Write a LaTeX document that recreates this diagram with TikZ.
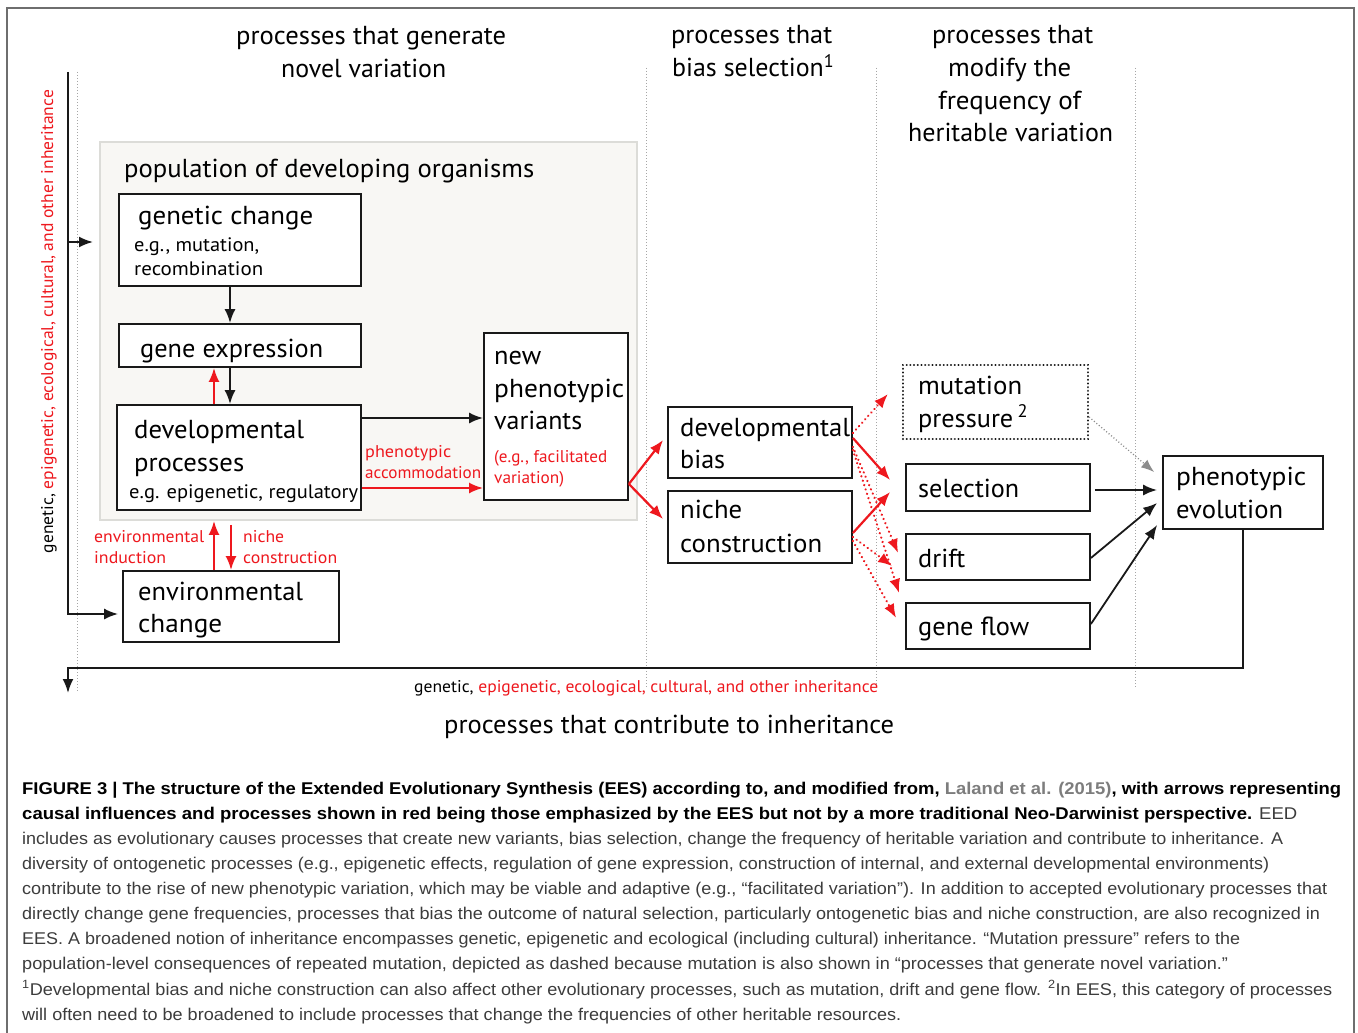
\documentclass[tikz,border=0pt]{standalone}
\usepackage{fontspec}
\usepackage{graphicx}
\setmainfont{PT Sans}
\newfontfamily\capfont{Liberation Sans}
\usetikzlibrary{arrows.meta}
\definecolor{ered}{RGB}{238,24,30}
\definecolor{capgray}{RGB}{60,60,60}
\definecolor{citegray}{RGB}{125,125,125}
\definecolor{popfill}{RGB}{248,247,244}
\definecolor{popdraw}{RGB}{220,220,216}
\definecolor{framec}{RGB}{110,110,110}
\definecolor{boxc}{RGB}{25,25,25}
\newcommand\fw[2]{\resizebox{#1pt}{\height}{#2}}
\tikzset{
  big/.style={inner sep=0pt, anchor=base west, font=\fontsize{26}{30}\selectfont},
  mid/.style={inner sep=0pt, anchor=base west, font=\fontsize{19.5}{23}\selectfont},
  sm/.style={inner sep=0pt, anchor=base west, font=\fontsize{17}{20}\selectfont, text=ered},
  captxt/.style={inner sep=0pt, anchor=base west, font=\capfont\fontsize{17}{20}\selectfont, text=capgray},
  box/.style={draw=boxc, line width=1.8pt, inner sep=0pt},
  dotbox/.style={draw=boxc, line width=2.2pt, dash pattern=on 0.1pt off 3.6pt, line cap=round, inner sep=0pt},
  arr/.style={-{Latex[length=14pt,width=11pt]}, line width=2pt, draw=boxc},
  rarr/.style={-{Latex[length=14pt,width=11pt]}, line width=2.2pt, draw=ered},
  rdot/.style={-{Latex[length=14pt,width=11pt]}, line width=2.4pt, draw=ered, dash pattern=on 0.1pt off 4.5pt, line cap=round},
  gdot/.style={-{Latex[length=13pt,width=10pt]}, line width=1.3pt, draw=gray!90, dash pattern=on 1pt off 2.2pt},
  vline/.style={draw=gray!70, line width=1pt, dash pattern=on 1pt off 2pt},
}
\begin{document}
\begin{tikzpicture}[x=1pt,y=-1pt]
\useasboundingbox (0,0) rectangle (1358,1033);
\fill[white] (0,0) rectangle (1358,1033);
% frame
\draw[framec, line width=1.5pt] (7,1040) -- (7,8) -- (1354,8) -- (1354,1040);

% column separators
\draw[vline] (77,72) -- (77,692);
\draw[vline] (646,68) -- (646,688);
\draw[vline] (876,68) -- (876,688);
\draw[vline] (1135,68) -- (1135,688);

% headers
\node[big] (h1a) at (236,45) {\fw{270}{processes that generate}};
\node[big] (h1b) at (281,78) {\fw{165}{novel variation}};
\node[big] (h2a) at (671,44) {\fw{161}{processes that}};
\node[big] (h2b) at (672,77) {\fw{162}{bias selection\textsuperscript{1}}};
\node[big] (h3a) at (932,44) {\fw{161}{processes that}};
\node[big] (h3b) at (948,77) {\fw{123}{modify the}};
\node[big] (h3c) at (938,110) {\fw{143}{frequency of}};
\node[big] (h3d) at (908,142) {\fw{205}{heritable variation}};
\node[big] (h4) at (444,733) {\fw{450}{processes that contribute to inheritance}};

% population box
\node[draw=popdraw, fill=popfill, line width=1.5pt, minimum width=537pt, minimum height=378pt, inner sep=0pt] (pop) at (368.5,331) {};
\node[big] (popT) at (124,177) {\fw{410}{population of developing organisms}};

% boxes
\node[box, fill=white, minimum width=242pt, minimum height=92pt] (gc) at (240,240) {};
\node[box, fill=white, minimum width=242pt, minimum height=43pt] (ge) at (240,345.5) {};
\node[box, fill=white, minimum width=244pt, minimum height=105pt] (dp) at (239,457.5) {};
\node[box, fill=white, minimum width=144pt, minimum height=167pt] (npv) at (556,416.5) {};
\node[box, minimum width=216pt, minimum height=71pt] (ec) at (231,606.5) {};
\node[box, minimum width=184pt, minimum height=71pt] (db) at (760,442.5) {};
\node[box, minimum width=184pt, minimum height=72pt] (nc) at (760,527) {};
\node[dotbox, minimum width=185pt, minimum height=74pt] (mp) at (995.5,402) {};
\node[box, minimum width=184pt, minimum height=47pt] (sel) at (998,487.5) {};
\node[box, minimum width=184pt, minimum height=46pt] (dr) at (998,557) {};
\node[box, minimum width=184pt, minimum height=46pt] (gf) at (998,626) {};
\node[box, minimum width=160pt, minimum height=73pt] (pe) at (1243,492.5) {};

% box texts
\node[big] (gcT1) at (138,224) {\fw{175}{genetic change}};
\node[mid] (gcT2) at (134,251) {\fw{125}{e.g., mutation,}};
\node[mid] (gcT3) at (134,275) {\fw{129}{recombination}};
\node[big] (geT) at (140,357) {\fw{183}{gene expression}};
\node[big] (dpT1) at (134,438) {\fw{170}{developmental}};
\node[big] (dpT2) at (134,471) {\fw{110}{processes}};
\node[mid] (dpT3) at (129,498) {\fw{229}{e.g. epigenetic, regulatory}};
\node[big] (npvT1) at (494,364) {\fw{47}{new}};
\node[big] (npvT2) at (494,397) {\fw{130}{phenotypic}};
\node[big] (npvT3) at (494,429) {\fw{88}{variants}};
\node[sm] (npvT4) at (494,462) {\fw{113}{(e.g., facilitated}};
\node[sm] (npvT5) at (494,483) {\fw{70}{variation)}};
\node[sm] (paT1) at (365,457) {\fw{86}{phenotypic}};
\node[sm] (paT2) at (365,478) {\fw{116}{accommodation}};
\node[sm] (eiT1) at (94,542) {\fw{110}{environmental}};
\node[sm] (eiT2) at (94,563) {\fw{72}{induction}};
\node[sm] (ncT1) at (243,542) {\fw{41}{niche}};
\node[sm] (ncT2) at (243,563) {\fw{94}{construction}};
\node[big] (ecT1) at (138,600) {\fw{165}{environmental}};
\node[big] (ecT2) at (138,632) {\fw{84}{change}};
\node[big] (dbT1) at (680,436) {\fw{170}{developmental}};
\node[big] (dbT2) at (680,468) {\fw{45}{bias}};
\node[big] (nbT1) at (680,518) {\fw{62}{niche}};
\node[big] (nbT2) at (680,552) {\fw{142}{construction}};
\node[big] (mpT1) at (918,394) {\fw{104}{mutation}};
\node[big] (mpT2) at (918,427) {\fw{110}{pressure\,\textsuperscript{2}}};
\node[big] (selT) at (918,497) {\fw{101}{selection}};
\node[big] (drT) at (918,567) {\fw{47}{drift}};
\node[big] (gfT) at (918,635) {\fw{111}{gene flow}};
\node[big] (peT1) at (1176,485) {\fw{130}{phenotypic}};
\node[big] (peT2) at (1176,518) {\fw{107}{evolution}};

% inheritance labels
\node[inner sep=0pt, anchor=base, rotate=90, font=\fontsize{17}{20}\selectfont] (vlab) at (53,321.5)
  {\fw{463}{genetic, \textcolor{ered}{epigenetic, ecological, cultural, and other inheritance}}};
\node[inner sep=0pt, anchor=base west, font=\fontsize{17}{20}\selectfont] (hlab) at (414,692)
  {\fw{464}{genetic, \textcolor{ered}{epigenetic, ecological, cultural, and other inheritance}}};

% inheritance loop
\coordinate (lTop) at (68,72);
\coordinate (lMid) at (68,242);
\coordinate (popIn) at (93,242);
\coordinate (bCorner) at (68,668);
\coordinate (bEnd) at (68,693);
\draw[line width=2pt, draw=boxc] (lTop) -- (lMid);
\draw[arr] (lMid) -- (popIn);
\draw[arr] (lMid) |- ([xshift=-4pt,yshift=-7.5pt]ec.west);
\draw[arr] (pe.south) |- (bCorner) -- (bEnd);

% arrows inside population
\draw[arr] ([xshift=-10pt]gc.south) -- ([xshift=-10pt]ge.north);
\draw[arr] ([xshift=-10pt]ge.south) -- ([xshift=-9pt]dp.north);
\draw[rarr] ([xshift=-25pt]dp.north) -- ([xshift=-26pt]ge.south);
\draw[arr] ([yshift=39.5pt]dp.east) -- ([yshift=-1.5pt]npv.west);
\draw[rarr] ([yshift=-30.5pt]dp.east) -- ([yshift=-71.5pt]npv.west);
\draw[rarr] ([xshift=-17pt]ec.north) -- ([xshift=-25pt,yshift=-10pt]dp.south);
\draw[rarr] ([yshift=-14pt]dp.south -| ec.north) -- (ec.north);

% to bias selection
\draw[rarr] ([yshift=-67.5pt]npv.east) -- ([xshift=-4pt,yshift=2.5pt]db.west);
\draw[rarr] ([yshift=-67.5pt]npv.east) -- ([xshift=-4pt,yshift=8pt]nc.west);

% bias -> frequency processes
\draw[rarr] ([yshift=4.5pt]db.east) -- ([xshift=-15pt,yshift=7.5pt]sel.west);
\draw[rarr] ([yshift=-6pt]nc.east) -- ([xshift=-15pt,yshift=-4.5pt]sel.west);
\draw[rdot] ([yshift=9.5pt]db.east) -- ([xshift=-14pt,yshift=8pt]mp.west);
\draw[rdot] ([yshift=-4.5pt]db.east) -- ([xshift=-7pt,yshift=4pt]dr.west);
\draw[rdot] ([yshift=-7.5pt]db.east) -- ([xshift=-6pt,yshift=33pt]gf.west);
\draw[rdot] ([yshift=-10pt]nc.east) -- ([xshift=-13pt,yshift=-9pt]dr.west);
\draw[rdot] ([yshift=-14pt]nc.east) -- ([xshift=-9pt,yshift=8pt]gf.west);

% to phenotypic evolution
\draw[gdot] ([yshift=-15pt]mp.east) -- ([xshift=-8pt,yshift=20.5pt]pe.west);
\draw[arr] ([xshift=4pt,yshift=-2.5pt]sel.east) -- ([xshift=-5pt,yshift=2.5pt]pe.west);
\draw[arr, line width=1.8pt] ([yshift=-1pt]dr.east) -- ([xshift=-5pt,yshift=-10.5pt]pe.west);
\draw[arr, line width=1.8pt] ([yshift=2pt]gf.east) -- ([xshift=-5pt,yshift=-32.5pt]pe.west);

% caption
\node[captxt] (c1) at (22,794) {\fw{1319}{\color{black}\bfseries FIGURE 3 | The structure of the Extended Evolutionary Synthesis (EES) according to, and modified from, \textcolor{citegray}{Laland et al. (2015)}, with arrows representing}};
\node[captxt] (c2) at (22,819) {\fw{1275}{\textcolor{black}{\bfseries causal influences and processes shown in red being those emphasized by the EES but not by a more traditional Neo-Darwinist perspective.} EED}};
\node[captxt] (c3) at (22,844) {\fw{1261}{includes as evolutionary causes processes that create new variants, bias selection, change the frequency of heritable variation and contribute to inheritance. A}};
\node[captxt] (c4) at (22,869) {\fw{1247}{diversity of ontogenetic processes (e.g., epigenetic effects, regulation of gene expression, construction of internal, and external developmental environments)}};
\node[captxt] (c5) at (22,894) {\fw{1305}{contribute to the rise of new phenotypic variation, which may be viable and adaptive (e.g., “facilitated variation”). In addition to accepted evolutionary processes that}};
\node[captxt] (c6) at (22,919.5) {\fw{1298}{directly change gene frequencies, processes that bias the outcome of natural selection, particularly ontogenetic bias and niche construction, are also recognized in}};
\node[captxt] (c7) at (22,944.5) {\fw{1218}{EES. A broadened notion of inheritance encompasses genetic, epigenetic and ecological (including cultural) inheritance. “Mutation pressure” refers to the}};
\node[captxt] (c8) at (22,969.5) {\fw{1206}{population-level consequences of repeated mutation, depicted as dashed because mutation is also shown in “processes that generate novel variation.”}};
\node[captxt] (c9) at (22,995) {\fw{1310}{\textsuperscript{1}Developmental bias and niche construction can also affect other evolutionary processes, such as mutation, drift and gene flow. \textsuperscript{2}In EES, this category of processes}};
\node[captxt] (c10) at (22,1020) {\fw{879}{will often need to be broadened to include processes that change the frequencies of other heritable resources.}};
\end{tikzpicture}
\end{document}
